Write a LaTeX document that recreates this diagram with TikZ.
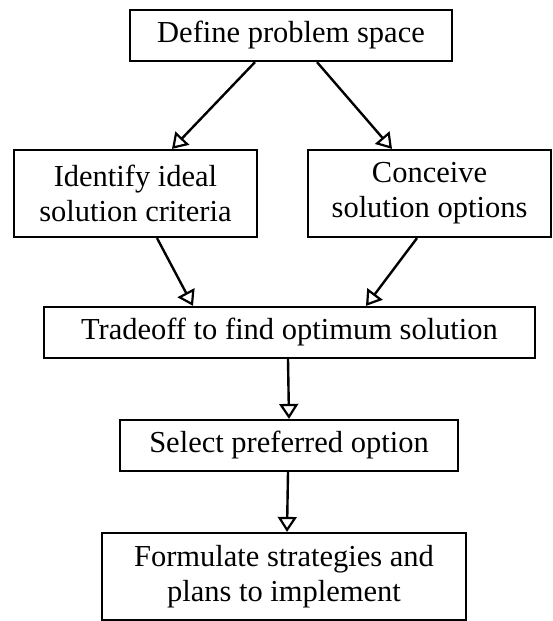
\documentclass[tikz,border=0pt]{standalone}
\usepackage{fontspec}
\setmainfont{Liberation Serif}
\usetikzlibrary{arrows.meta}

\begin{document}
\begin{tikzpicture}[x=1pt,y=-1pt,
		box/.style={draw,line width=2.2pt,align=center,inner sep=0pt,
			font=\fontsize{30.5}{35}\selectfont},
		flow/.style={line width=2.4pt,-{Triangle[open,length=15pt,width=19pt,line width=2.2pt]}}]
		\useasboundingbox (0,0) rectangle (553,621); % Margini dell'immagine

		% Riquadri
		\node[box,minimum width=322pt,minimum height=51pt] (define) at (291,35.5) {Define problem space};
		\node[box,minimum width=243pt,minimum height=87pt] (ideal) at (135.5,193.5) {Identify ideal\\solution criteria};
		\node[box,minimum width=243pt,minimum height=87pt] (options) at (429.5,193.5) {Conceive\\solution options};
		\node[box,minimum width=491pt,minimum height=51pt] (tradeoff) at (289.5,332.5) {Tradeoff to find optimum solution};
		\node[box,minimum width=338pt,minimum height=51pt] (select) at (289,445.5) {Select preferred option};
		\node[box,minimum width=364pt,minimum height=87pt] (formulate) at (284,576.5) {Formulate strategies and\\plans to implement};

		% Frecce
		\draw[flow] ([xshift=-36pt]define.south) -- ([xshift=36.5pt]ideal.north);
		\draw[flow] ([xshift=26pt]define.south) -- ([xshift=-37.5pt]options.north);
		\draw[flow] ([xshift=21.5pt]ideal.south) -- ([xshift=-96.5pt]tradeoff.north);
		\draw[flow] ([xshift=-12.5pt]options.south) -- ([xshift=76.5pt]tradeoff.north);
		\draw[flow] ([xshift=-1.5pt]tradeoff.south) -- (select.north);
		\draw[flow] ([xshift=-1pt]select.south) -- ([xshift=3pt]formulate.north);
	\end{tikzpicture}
\end{document}
